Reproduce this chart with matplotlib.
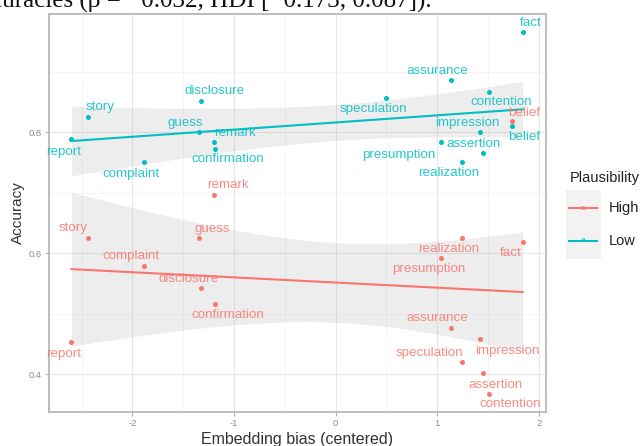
import numpy as np
import matplotlib
matplotlib.use("Agg")
import matplotlib.pyplot as plt
from matplotlib.patches import Rectangle
from matplotlib.lines import Line2D

plt.rcParams['font.family'] = ['Liberation Sans', 'DejaVu Sans']
plt.rcParams['axes.unicode_minus'] = False

# words and their values
low_words = ['fact', 'story', 'disclosure', 'report', 'guess', 'remark', 'confirmation',
             'complaint', 'speculation', 'assurance', 'contention', 'belief',
             'impression', 'assertion', 'presumption', 'realization']
low_x = [1.84, -2.44, -1.32, -2.60, -1.34, -1.20, -1.19, -1.89, 0.50, 1.14, 1.51, 1.74,
         1.42, 1.45, 1.04, 1.24]
low_y = [0.965, 0.825, 0.851, 0.788, 0.800, 0.784, 0.772, 0.751, 0.856, 0.886, 0.866, 0.810,
         0.800, 0.765, 0.784, 0.751]

high_words = ['remark', 'story', 'guess', 'complaint', 'disclosure', 'confirmation', 'report',
              'realization', 'fact', 'presumption', 'assurance', 'impression', 'speculation',
              'assertion', 'contention', 'belief']
high_x = [-1.20, -2.44, -1.34, -1.89, -1.32, -1.19, -2.60, 1.24, 1.84, 1.04, 1.14, 1.42, 1.24,
          1.45, 1.51, 1.74]
high_y = [0.696, 0.626, 0.626, 0.579, 0.543, 0.517, 0.453, 0.626, 0.619, 0.593, 0.476, 0.459,
          0.421, 0.403, 0.367, 0.818]

x_ticks = [-2, -1, 0, 1, 2]
y_ticks = [0.4, 0.6, 0.8]
groups = ['High', 'Low']

# label offsets from the point, in pixels (right, down) - like ggrepel put them
low_offsets = {'fact': (8, -9), 'story': (13, -10), 'disclosure': (13, -10), 'report': (-8, 13),
               'guess': (-14, -9), 'remark': (21, -9), 'confirmation': (13, 10),
               'complaint': (-13, 12), 'speculation': (-13, 11), 'assurance': (-14, -9),
               'contention': (12, 10), 'belief': (12, 11), 'impression': (-13, -9),
               'assertion': (-9, -9), 'presumption': (-43, 13), 'realization': (-13, 11)}
high_offsets = {'remark': (14, -10), 'story': (-14, -10), 'guess': (13, -9),
                'complaint': (-13, -10), 'disclosure': (-13, -9), 'confirmation': (13, 11),
                'report': (-8, 12), 'realization': (-13, 11), 'fact': (-12, 11),
                'presumption': (-13, 11), 'assurance': (-14, -10), 'impression': (27, 12),
                'speculation': (-32, -9), 'assertion': (13, 12), 'contention': (21, 10),
                'belief': (12, -8)}

red = '#F8766D'
teal = '#00BFC4'


# linear fit with 95% confidence band (like geom_smooth(method='lm'))
def lm_band(x, y, n=100):
    x = np.asarray(x)
    y = np.asarray(y)
    b1, b0 = np.polyfit(x, y, 1)
    xs = np.linspace(x.min(), x.max(), n)
    fit = b0 + b1 * xs
    resid = y - (b0 + b1 * x)
    s = np.sqrt(np.sum(resid ** 2) / (len(x) - 2))
    sxx = np.sum((x - x.mean()) ** 2)
    se = s * np.sqrt(1 / len(x) + (xs - x.mean()) ** 2 / sxx)
    t = 2.145  # t(0.975, df=14)
    return xs, fit, fit - t * se, fit + t * se


fig = plt.figure(figsize=(6.41, 4.46), dpi=100)
ax = fig.add_axes([49 / 641, 1 - 412 / 446, (546 - 49) / 641, (412 - 14) / 446])

for xv, yv, words, offs, col in [(high_x, high_y, high_words, high_offsets, red),
                                 (low_x, low_y, low_words, low_offsets, teal)]:
    xs, fit, lo, hi = lm_band(xv, yv)
    ax.fill_between(xs, lo, hi, color='#999999', alpha=0.17, lw=0, zorder=1)
    ax.plot(xs, fit, color=col, lw=1.5, zorder=3)
    ax.scatter(xv, yv, s=13, color=col, lw=0, zorder=4)
    for w, px, py in zip(words, xv, yv):
        dx, dy = offs[w]
        ax.annotate(w, (px, py), xytext=(dx * 0.72, -dy * 0.72), textcoords='offset points',
                    ha='center', va='center', fontsize=9.6, color=col, alpha=0.85, zorder=5)

# axes, grid, ticks
ax.set_xlim(-2.82, 2.07)
ax.set_ylim(0.338, 0.995)
ax.set_xticks(x_ticks)
ax.set_xticklabels([str(v) for v in x_ticks])
ax.set_yticks(y_ticks)
ax.set_yticklabels([str(v) for v in y_ticks])
ax.set_xticks(np.arange(-2.5, 2.1, 1.0), minor=True)
ax.set_yticks([0.5, 0.7, 0.9], minor=True)
ax.grid(which='major', color='#E6E6E6', lw=0.8)
ax.grid(which='minor', color='#F2F2F2', lw=0.5)
ax.set_axisbelow(True)
ax.tick_params(which='major', length=3, width=0.8, color='#B0B0B0', labelsize=6.8,
               labelcolor='#8C8C8C', pad=2)
ax.tick_params(which='minor', length=0)
for sp in ax.spines.values():
    sp.set_color('#B8B8B8')
    sp.set_linewidth(1.3)

ax.set_xlabel('Embedding bias (centered)', fontsize=11.5, color='#333333', labelpad=3)
ax.set_ylabel('Accuracy', fontsize=11, color='#333333', labelpad=3)

# legend drawn by hand on the figure
W, H = 641, 446
fig.text(570 / W, 1 - 178 / H, 'Plausibility', fontsize=10.5, color='#222222',
         ha='left', va='center')
fig.patches.append(Rectangle((566 / W, 1 - 259 / H), 35 / W, 69 / H, transform=fig.transFigure,
                             facecolor='#F2F2F2', edgecolor='none'))
for g, col, yy in zip(groups, [red, teal], [208, 241]):
    fig.lines.append(Line2D([569 / W, 597 / W], [1 - yy / H, 1 - yy / H], color=col, lw=1.5,
                            transform=fig.transFigure))
    fig.text(583 / W, 1 - yy / H, 'a', fontsize=6, color=col, ha='center', va='center')
    fig.text(609 / W, 1 - yy / H, g, fontsize=10.5, color='#222222', ha='left', va='center')

# the caption line above the chart is cut off in the screenshot
fig.text(432 / W, 1 - 7 / H, 'accuracies (β = −0.032, HDI [−0.173, 0.087]).',
         family=['Liberation Serif', 'DejaVu Serif'], fontsize=18, color='#111111',
         ha='right', va='baseline')

fig.savefig('out.png', dpi=100)
